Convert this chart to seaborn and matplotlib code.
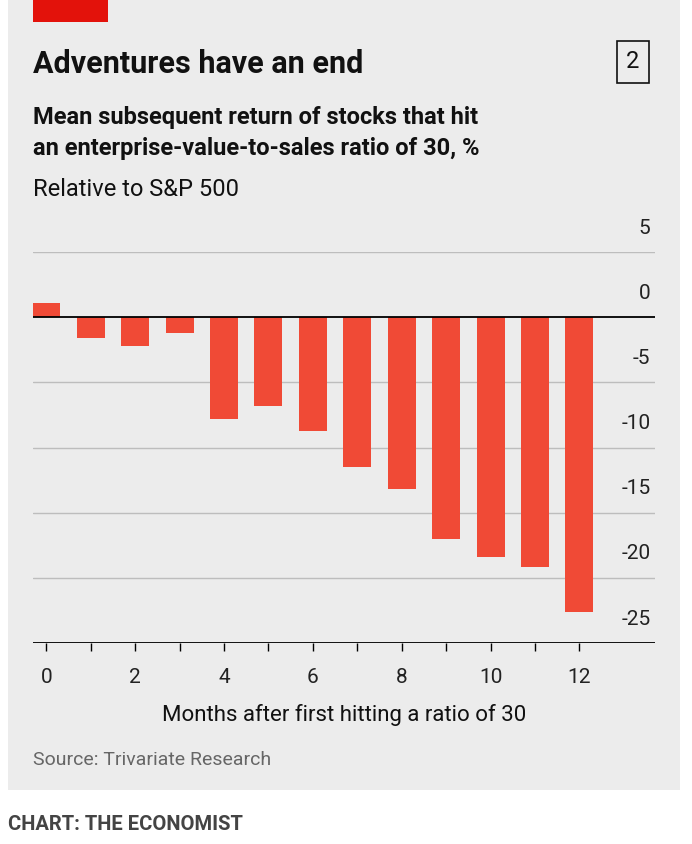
import matplotlib.pyplot as plt
import seaborn as sns
import pandas as pd
from matplotlib.patches import Rectangle

months = list(range(13))
returns = [1.1, -1.6, -2.2, -1.2, -7.8, -6.8, -8.7, -11.5, -13.2, -17.0, -18.4, -19.2, -22.6]
yticks = [5, 0, -5, -10, -15, -20, -25]

sns.set_theme(style="white")
plt.rcParams['font.family'] = ['Roboto', 'DejaVu Sans']

W, H = 692, 844
fig = plt.figure(figsize=(W / 100, H / 100), dpi=100)
fig.patch.set_facecolor('white')
bg = '#ececec'
fig.add_artist(Rectangle((8 / W, 1 - 790 / H), 672 / W, 790 / H, transform=fig.transFigure,
                         facecolor=bg, edgecolor='none', zorder=0))
fig.add_artist(Rectangle((33 / W, 1 - 22 / H), 75 / W, 22 / H, transform=fig.transFigure,
                         facecolor='#e3120b', edgecolor='none', zorder=1))

ax = fig.add_axes([33 / W, (H - 643) / H, (655 - 33) / W, (643 - 252) / H])
ax.set_facecolor(bg)
df = pd.DataFrame({'month': months, 'ret': returns})
sns.barplot(data=df, x='month', y='ret', color='#f04a36', saturation=1, width=0.63,
            linewidth=0, edgecolor='none', ax=ax, zorder=3)
ax.set_xlim(-0.3, 13.7)
ax.set_ylim(-25, 5)
for s in ax.spines.values():
    s.set_visible(False)
for v in yticks:
    if v in (0, -25):
        ax.axhline(v, color='black', lw=1.3, zorder=4)
    else:
        ax.axhline(v, color='#bdbdbd', lw=1, zorder=1)
    ax.text(13.6, v + 1.1, str(v), ha='right', va='bottom', fontsize=15, color='#222222')
ax.set_yticks([])
ax.set_xticks(months)
ax.set_xticklabels([str(m) if m % 2 == 0 else '' for m in months], fontsize=15, color='#222222')
ax.tick_params(axis='x', length=6, width=1, color='black', bottom=True, pad=12)
ax.set_xlabel('Months after first hitting a ratio of 30', fontsize=16, color='#111111', labelpad=12)
ax.set_ylabel('')

fig.text(33 / W, 1 - 64 / H, 'Adventures have an end', fontsize=22, fontweight='bold', va='center', color='#111111')
fig.text(33 / W, 1 - 133 / H, 'Mean subsequent return of stocks that hit\nan enterprise-value-to-sales ratio of 30, %',
         fontsize=17, fontweight='bold', va='center', color='#111111', linespacing=1.45)
fig.text(33 / W, 1 - 190 / H, 'Relative to S&P 500', fontsize=17, va='center', color='#111111')
fig.text(633 / W, 1 - 62 / H, '2', fontsize=17, ha='center', va='center', color='#111111',
         bbox=dict(boxstyle='square,pad=0.4', facecolor='none', edgecolor='#111111', lw=1.2))
fig.text(33 / W, 1 - 760 / H, 'Source: Trivariate Research', fontsize=14, va='center', color='#666666')
fig.text(8 / W, 1 - 825 / H, 'CHART: THE ECONOMIST', fontsize=14.5, fontweight='bold', va='center', color='#444444')

fig.savefig('out.png', dpi=100)
